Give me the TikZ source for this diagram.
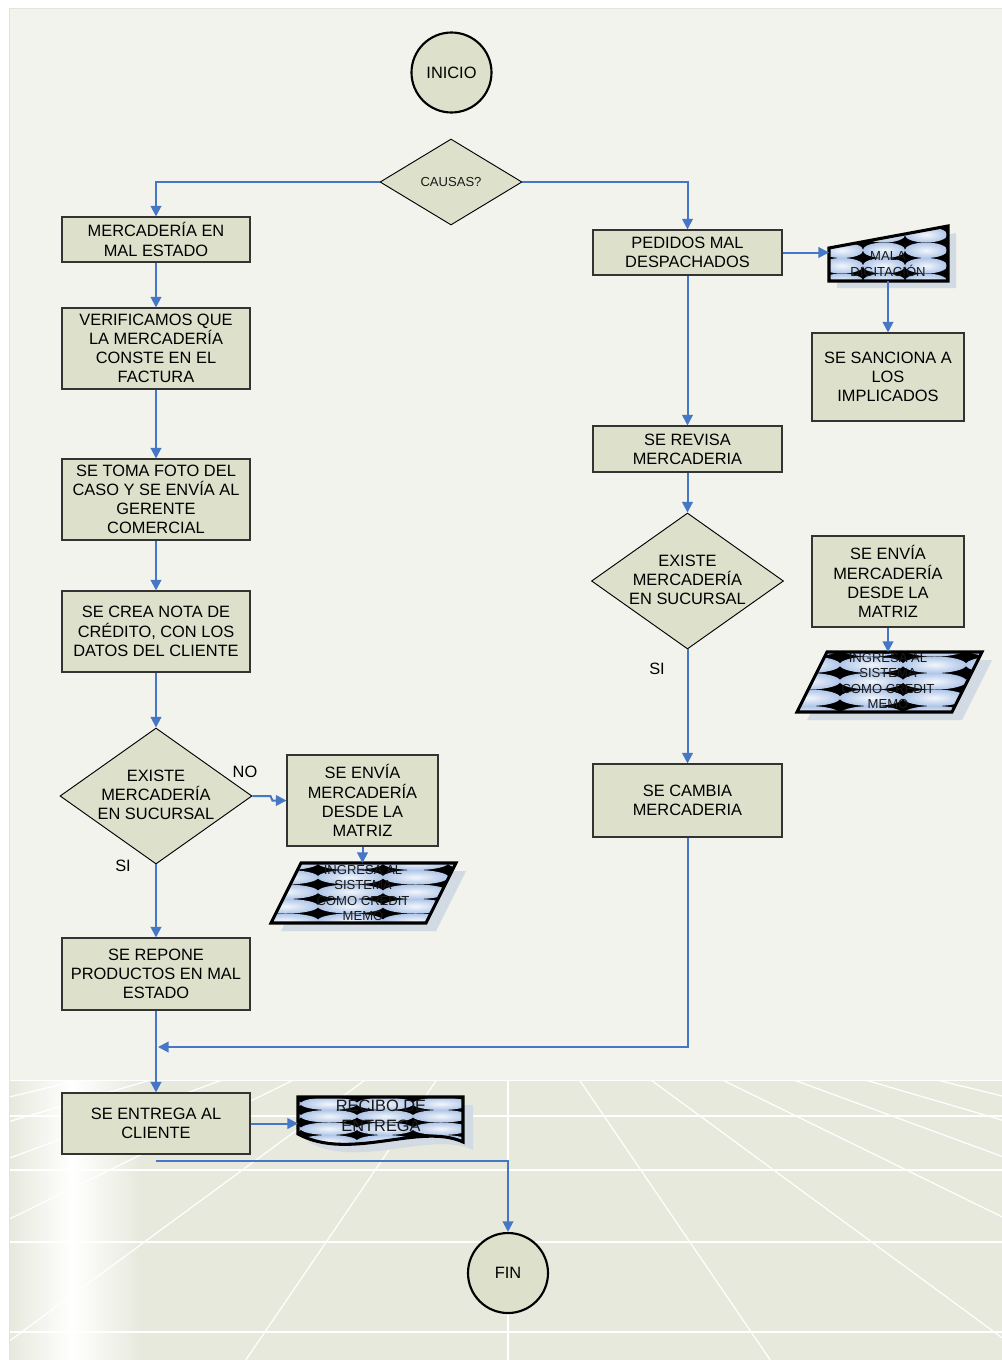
\documentclass[tikz,border=0pt]{standalone}
\usepackage{fontspec}
\setmainfont{Liberation Sans}
\usetikzlibrary{shapes.geometric,arrows.meta}
\definecolor{bgtop}{HTML}{F2F3EC}
\definecolor{bgedge}{HTML}{E2E4D8}
\definecolor{floorc}{HTML}{E8E9DD}
\definecolor{boxfill}{HTML}{DDE1CB}
\definecolor{linkblue}{HTML}{4676C6}
\definecolor{bubout}{HTML}{B0C6E8}
\definecolor{bubin}{HTML}{F2F6FC}
\definecolor{shadowc}{HTML}{D2DBE3}
\newcommand{\bubblefill}[6]{%
  \foreach \cc in {0,...,#3}{%
    \foreach \rr in {0,...,#4}{%
      \shade[inner color=bubin, outer color=bubout]
        ({#1+(\cc+0.5)*#5},{#2+(\rr+0.5)*#6}) ellipse [x radius={#5*0.38pt}, y radius={#6*0.375pt}];
    }}}
\begin{document}
\begin{tikzpicture}[x=0.75pt,y=-0.75pt,
  box/.style={draw=black!80, fill=boxfill, line width=0.8pt, align=center, inner sep=1pt, font=\fontsize{12.3}{14.4}\selectfont},
  term/.style={circle, draw=black, line width=1.6pt, fill=boxfill, minimum size=60pt, inner sep=0pt, font=\fontsize{12.3}{14.4}\selectfont},
  dia/.style={diamond, draw=black, line width=0.7pt, fill=boxfill, inner sep=0pt},
  txt/.style={align=center, inner sep=0pt, font=\fontsize{12.3}{14.4}\selectfont},
  smalltxt/.style={align=center, inner sep=0pt, font=\fontsize{9.8}{11.4}\selectfont, text=black!90},
  link/.style={draw=linkblue, line width=1.5pt},
  arr/.style={link, -{Triangle[length=8pt,width=8pt]}},
  docborder/.style={draw=black, line width=2.3pt, line join=miter},
]
\useasboundingbox (0,0) rectangle (1002,1360);
% background
\fill[white] (0,0) rectangle (1002,1360);
\fill[bgtop] (9,8) rectangle (1002,1360);
\draw[bgedge, line width=0.8pt] (9.5,1360) -- (9.5,8.5) -- (1002,8.5);
\fill[floorc] (10,1080) rectangle (1002,1360);
\shade[left color=floorc, right color=white] (10,1080) rectangle (72,1360);
\shade[left color=white, right color=floorc] (72,1080) rectangle (140,1360);
\begin{scope}
  \clip (10,1080) rectangle (1002,1360);
  \foreach \yy in {1080,1116,1170,1242,1332}
    \draw[white, line width=1.1pt] (10,\yy) -- (1002,\yy);
  \foreach \k in {-7,...,7}
    \draw[white, line width=0.9pt] ({508+71.5*\k},1080) -- ({508+262.2*\k},1360);
\end{scope}

% terminals
\node[term] (inicio) at (451.5,72.5) {INICIO};
\node[term] (fin) at (508,1273) {FIN};

% decisions
\node[dia, minimum width=106.5pt, minimum height=64.5pt] (causas) at (451,182) {};
\node[smalltxt] (causast) at (451,182) {CAUSAS?};
\node[dia, minimum width=144pt, minimum height=102pt] (d1) at (156,796) {};
\node[txt] (d1t) at (156,795) {EXISTE\\MERCADERÍA\\EN SUCURSAL};
\node[dia, minimum width=144pt, minimum height=102pt] (d2) at (687.5,581) {};
\node[txt] (d2t) at (687.5,580) {EXISTE\\MERCADERÍA\\EN SUCURSAL};

% left column boxes
\node[box, minimum width=141pt, minimum height=33.75pt] (m1) at (156,239.5) {MERCADERÍA EN\\MAL ESTADO};
\node[box, minimum width=141pt, minimum height=60.75pt] (m2) at (156,348.5) {VERIFICAMOS QUE\\LA MERCADERÍA\\CONSTE EN EL\\FACTURA};
\node[box, minimum width=141pt, minimum height=60.75pt] (m3) at (156,499.5) {SE TOMA FOTO DEL\\CASO Y SE ENVÍA AL\\GERENTE\\COMERCIAL};
\node[box, minimum width=141pt, minimum height=60.75pt] (m4) at (156,631.5) {SE CREA NOTA DE\\CRÉDITO, CON  LOS\\DATOS DEL CLIENTE};
\node[box, minimum width=141pt, minimum height=54pt] (m5) at (156,974) {SE REPONE\\PRODUCTOS EN MAL\\ESTADO};
\node[box, minimum width=141pt, minimum height=45.75pt] (m6) at (156,1123.5) {SE ENTREGA AL\\CLIENTE};
\node[box, minimum width=113.25pt, minimum height=68.25pt] (s3) at (362.5,800.5) {SE ENVÍA\\MERCADERÍA\\DESDE LA\\MATRIZ};

% right column boxes
\node[box, minimum width=141.75pt, minimum height=33.75pt] (r1) at (687.5,252.5) {PEDIDOS MAL\\DESPACHADOS};
\node[box, minimum width=141.75pt, minimum height=34.5pt] (r2) at (687.5,449) {SE REVISA\\MERCADERIA};
\node[box, minimum width=141.75pt, minimum height=54.75pt] (r3) at (687.5,800.5) {SE CAMBIA\\MERCADERIA};
\node[box, minimum width=114pt, minimum height=66pt] (s1) at (888,377) {SE SANCIONA A\\LOS\\IMPLICADOS};
\node[box, minimum width=114pt, minimum height=68.25pt] (s2) at (888,581.5) {SE ENVÍA\\MERCADERÍA\\DESDE LA\\MATRIZ};

% labels
\node[txt] (nolbl) at (245,772) {NO};
\node[txt] (sil) at (123,866) {SI};
\node[txt] (sir) at (657,669) {SI};

% MALA DIGITACION (manual input)
\fill[shadowc] (837,255) -- (956,233) -- (956,288) -- (837,288) -- cycle;
\fill[black] (829,248) -- (948,226) -- (948,281) -- (829,281) -- cycle;
\begin{scope}
  \clip (829,248) -- (948,226) -- (948,281) -- (829,281) -- cycle;
  \bubblefill{821}{211.5}{3}{4}{42}{15.5}
\end{scope}
\draw[docborder] (829,248) -- (948,226) -- (948,281) -- (829,281) -- cycle;
\node[smalltxt] (malat) at (888,264) {MALA\\DIGITACIÓN};

% INGRESA right (data)
\fill[shadowc] (837,660) -- (992,660) -- (962,720) -- (807,720) -- cycle;
\fill[black] (827,652) -- (982,652) -- (952,712) -- (797,712) -- cycle;
\begin{scope}
  \clip (827,652) -- (982,652) -- (952,712) -- (797,712) -- cycle;
  \bubblefill{777}{640}{3}{4}{63}{16.5}
\end{scope}
\draw[docborder] (827,652) -- (982,652) -- (952,712) -- (797,712) -- cycle;
\node[smalltxt] (ingrt) at (888,681) {INGRESA AL\\SISTEMA\\COMO CREDIT\\MEMO};

% INGRESA left (data)
\fill[shadowc] (311,871) -- (466,871) -- (436,931) -- (281,931) -- cycle;
\fill[black] (301,863) -- (456,863) -- (426,923) -- (271,923) -- cycle;
\begin{scope}
  \clip (301,863) -- (456,863) -- (426,923) -- (271,923) -- cycle;
  \bubblefill{253}{855.5}{3}{4}{65}{14.5}
\end{scope}
\draw[docborder] (301,863) -- (456,863) -- (426,923) -- (271,923) -- cycle;
\node[smalltxt] (inglt) at (363,893) {INGRESA AL\\SISTEMA\\COMO CREDIT\\MEMO};

% RECIBO DE ENTREGA (document)
\fill[shadowc] (308,1105) -- (473,1105) -- (473,1150) .. controls (430,1130) and (360,1170) .. (308,1142) -- cycle;
\fill[black] (298,1097) -- (463,1097) -- (463,1142) .. controls (420,1122) and (350,1162) .. (298,1134) -- cycle;
\begin{scope}
  \clip (298,1097) -- (463,1097) -- (463,1142) .. controls (420,1122) and (350,1162) .. (298,1134) -- cycle;
  \bubblefill{245}{1097.5}{3}{4}{56}{12.5}
\end{scope}
\draw[docborder] (298,1097) -- (463,1097) -- (463,1142) .. controls (420,1122) and (350,1162) .. (298,1134) -- cycle;
\node[txt, font=\fontsize{12.3}{15}\selectfont, text=black!90] (recibot) at (381,1116) {RECIBO DE\\ENTREGA};

% connector end points on drawn shapes
\coordinate (malaw) at (829,252.5);
\coordinate (malas) at (888,281);
\coordinate (ingRn) at (888,652);
\coordinate (ingLn) at (362.5,863);
\coordinate (recw) at (298,1123.5);
\coordinate (mergept) at (158,1047);
\coordinate (jstart) at (156,1161);

% connectors
\draw[arr] (causas.west) -| (m1.north);
\draw[arr] (causas.east) -| (r1.north);
\draw[arr] (m1.south) -- (m2.north);
\draw[arr] (m2.south) -- (m3.north);
\draw[arr] (m3.south) -- (m4.north);
\draw[arr] (m4.south) -- (d1.north);
\draw[arr] (d1.east) -- ++(18,0) -- ++(2,4.5) -- (s3.west);
\draw[arr] (s3.south) -- (ingLn);
\draw[arr] (d1.south) -- (m5.north);
\draw[arr] (r3.south) |- (mergept);
\draw[arr] (m5.south) -- (m6.north);
\draw[arr] (m6.east) -- (recw);
\draw[arr] (jstart) -| (fin.north);
\draw[arr] (r1.east) -- (malaw);
\draw[arr] (malas) -- (s1.north);
\draw[arr] (r1.south) -- (r2.north);
\draw[arr] (r2.south) -- (d2.north);
\draw[arr] (d2.south) -- (r3.north);
\draw[arr] (s2.south) -- (ingRn);
\end{tikzpicture}
\end{document}
